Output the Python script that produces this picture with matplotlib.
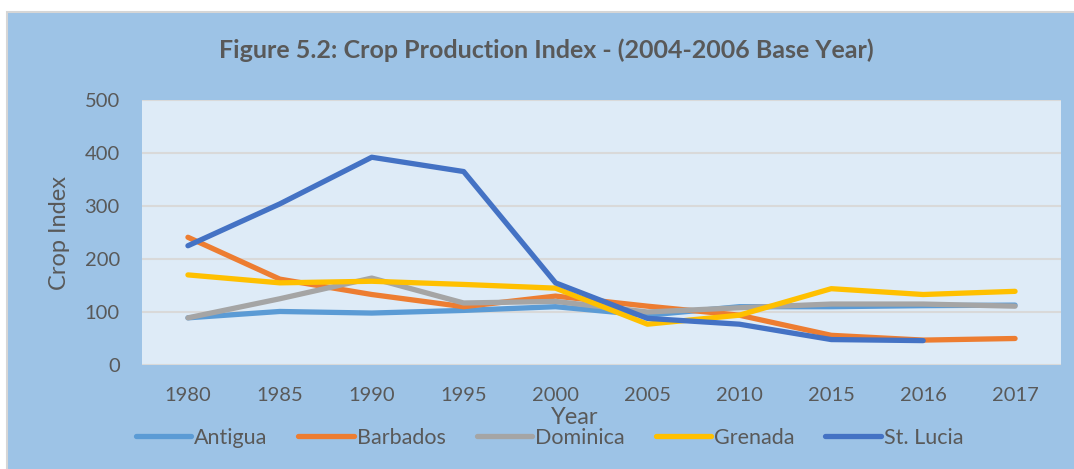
import numpy as np
import matplotlib
matplotlib.use("Agg")
import matplotlib.pyplot as plt
from matplotlib.patches import Rectangle

plt.rcParams['font.family'] = ['Lato', 'DejaVu Sans']

years = ["1980", "1985", "1990", "1995", "2000", "2005", "2010", "2015", "2016", "2017"]
antigua = [89, 101, 98, 103, 110, 94, 110, 110, 112, 113]
barbados = [241, 162, 133, 110, 130, 111, 94, 56, 47, 50]
dominica = [89, 125, 164, 117, 120, 100, 108, 115, 115, 111]
grenada = [170, 155, 158, 152, 145, 77, 94, 144, 133, 139]
st_lucia = [225, 304, 392, 365, 155, 88, 77, 48, 46, np.nan]

series = [("Antigua", antigua, "#5B9BD5"),
          ("Barbados", barbados, "#ED7D31"),
          ("Dominica", dominica, "#A5A5A5"),
          ("Grenada", grenada, "#FFC000"),
          ("St. Lucia", st_lucia, "#4472C4")]

W, H = 1074, 469
fig = plt.figure(figsize=(W / 100, H / 100), dpi=100)
fig.patch.set_facecolor("white")
fig.add_artist(Rectangle((7 / W, -0.05), 1.2, (H - 12) / H + 0.05,
                         transform=fig.transFigure, facecolor="#9DC3E6",
                         edgecolor="#D6D6D6", linewidth=1.5, zorder=0))

L, R, T, B = 142, 1061, 100, 365
ax = fig.add_axes([L / W, 1 - B / H, (R - L) / W, (B - T) / H])
ax.set_facecolor("#DEEBF7")
x = np.arange(len(years))
for name, vals, col in series:
    ax.plot(x, vals, color=col, lw=3.8, solid_capstyle="round",
            solid_joinstyle="round", label=name)

ax.set_xlim(-0.5, len(years) - 0.5)
ax.set_ylim(0, 500)
ax.set_yticks(range(0, 501, 100))
ax.set_xticks(x)
ax.set_xticklabels(years)
ax.grid(axis="y", color="#D9D9D9", lw=1.5)
ax.set_axisbelow(True)
for s in ax.spines.values():
    s.set_visible(False)
ax.tick_params(length=0, labelsize=14.5, colors="#595959")
ax.tick_params(axis="y", pad=16)
ax.tick_params(axis="x", pad=16)

ax.set_ylabel("Crop Index", fontsize=17, color="#595959")
ax.yaxis.set_label_coords((60 - L) / (R - L), (B - 233) / (B - T))
ax.set_xlabel("Year", fontsize=17, color="#595959")
ax.xaxis.set_label_coords((575 - L) / (R - L), (B - 417) / (B - T))
ax.xaxis.label.set_va("center")
ax.yaxis.label.set_va("center")

fig.text(546 / W, 1 - 50 / H, "Figure 5.2: Crop Production Index - (2004-2006 Base Year)",
         ha="center", va="center", fontsize=18, fontweight="bold", color="#595959")

leg = fig.legend(loc="center", bbox_to_anchor=(549.5 / W, 1 - 438 / H), ncol=5,
                 frameon=False, fontsize=15.5, handlelength=2.56, handletextpad=0.15,
                 columnspacing=1.44, labelcolor="#595959", borderpad=0, borderaxespad=0)
for l in leg.get_lines():
    l.set_linewidth(3.8)
    l.set_solid_capstyle("round")

fig.savefig("out.png", dpi=100, facecolor=fig.get_facecolor())
